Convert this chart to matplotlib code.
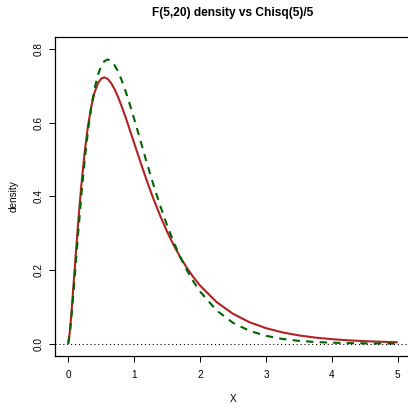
import matplotlib
matplotlib.use("Agg")
import matplotlib.pyplot as plt

plt.rcParams['font.family'] = ['Liberation Sans', 'DejaVu Sans']

# x grid, with densities of both curves
x = [0, 0.025, 0.05, 0.1, 0.15, 0.2, 0.25, 0.3, 0.35, 0.4, 0.45, 0.5, 0.55, 0.6, 0.65,
     0.7, 0.75, 0.8, 0.85, 0.9, 0.95, 1.0, 1.05, 1.1, 1.15, 1.2, 1.25, 1.3,
     1.4, 1.5, 1.6, 1.7, 1.8, 1.9, 2.0,
     2.25, 2.5, 2.75, 3.0, 3.25, 3.5, 3.75, 4.0, 4.25, 4.5, 4.75, 5.0]
f_dens = [0, 0.0324, 0.0849, 0.2059, 0.3251, 0.4309, 0.5194, 0.5899, 0.6433, 0.6814, 0.7060, 0.7191,
          0.7225, 0.7181, 0.7074, 0.6916, 0.6720, 0.6494, 0.6248, 0.5988, 0.5719, 0.5447,
          0.5178, 0.4907, 0.4645, 0.4387, 0.4137, 0.3899,
          0.3450, 0.3041, 0.2675, 0.2348, 0.2058, 0.1803, 0.1578,
          0.1131, 0.0811, 0.0583, 0.0422, 0.0307, 0.0225, 0.0165, 0.0123, 0.0091, 0.0069, 0.0052, 0.0039]
chisq_dens = [0, 0.0276, 0.0734, 0.1831, 0.2968, 0.4033, 0.4974, 0.5770, 0.6417, 0.6918, 0.7285, 0.7530,
              0.7667, 0.7709, 0.7671, 0.7566, 0.7405, 0.7199, 0.6958, 0.6690, 0.6402, 0.6102,
              0.5794, 0.5483, 0.5172, 0.4865, 0.4565, 0.4272,
              0.3719, 0.3212, 0.2756, 0.2350, 0.1994, 0.1684, 0.1417,
              0.0904, 0.0567, 0.0350, 0.0214, 0.0129, 0.0077, 0.0046, 0.0027, 0.0016, 0.0009, 0.0005, 0.0003]

xticks = [0, 1, 2, 3, 4, 5]
yticks = [0.0, 0.2, 0.4, 0.6, 0.8]

fig = plt.figure(figsize=(4.08, 4.04), dpi=100)
ax = fig.add_axes([55 / 408, 1 - 355.5 / 404, 356 / 408, (355.5 - 37) / 404])

ax.plot(x, f_dens, color='#B22222', lw=1.5, solid_capstyle='butt')
ax.plot(x, chisq_dens, color='#006400', lw=1.5, linestyle=(0, (3.5, 3)))
ax.axhline(0, color='black', lw=0.8, linestyle=(0, (1, 2.5)))

ax.set_xlim(-0.2, 5.2)
ax.set_ylim(-0.032, 0.832)
ax.set_xticks(xticks)
ax.set_xticklabels([str(t) for t in xticks])
ax.set_yticks(yticks)
ax.set_yticklabels(['%.1f' % t for t in yticks], rotation=90, va='center')
ax.tick_params(direction='out', length=4.3, width=0.7, labelsize=7.2, colors='black')
ax.tick_params(axis='x', pad=6)
ax.tick_params(axis='y', pad=4)
for s in ax.spines.values():
    s.set_linewidth(0.9)
    s.set_color('black')

ax.set_xlabel('X', fontsize=7.2, labelpad=10.5)
ax.set_ylabel('density', fontsize=7.2, labelpad=11)
fig.text(55 / 408 + 356 / 408 / 2, 1 - 13 / 404, 'F(5,20) density vs Chisq(5)/5',
         ha='center', va='center', fontsize=8.6, fontweight='bold')

fig.savefig('out.png', dpi=100)
